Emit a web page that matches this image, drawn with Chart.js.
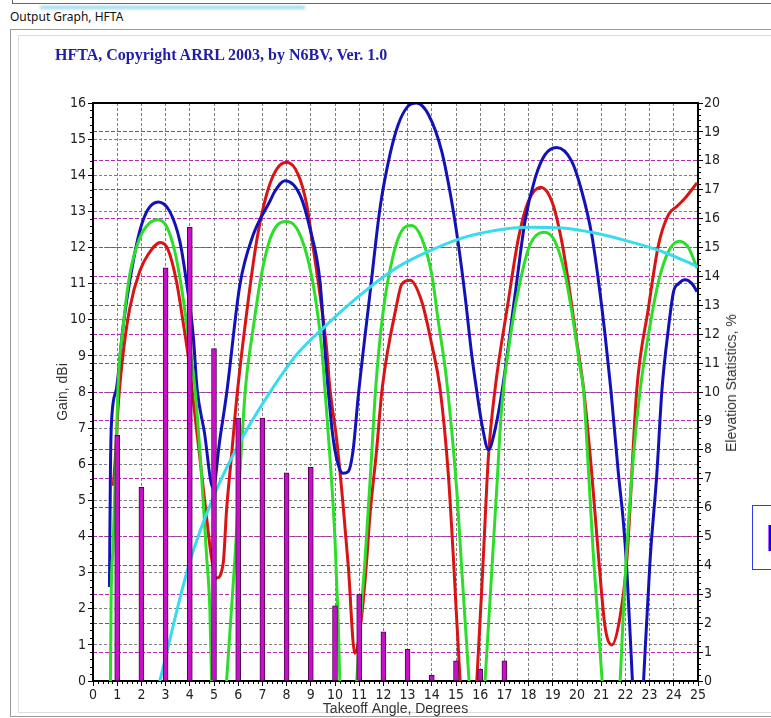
<!DOCTYPE html>
<html>
<head>
<meta charset="utf-8">
<title>Output Graph, HFTA</title>
<script src="https://cdn.jsdelivr.net/npm/chart.js@4.4.0/dist/chart.umd.min.js"></script>
<style>
  body { margin: 0; width: 771px; height: 718px; overflow: hidden; position: relative; background: #fff;
         font-family: "Liberation Sans", Arial, sans-serif; }
  #topEdge { position: absolute; left: 12px; top: -10px; width: 770px; height: 13px;
             border-left: 1px solid #666; border-bottom: 1px solid #666; }
  #glow { position: absolute; left: 40px; top: 6px; width: 265px; height: 3px; background: #8fd3f2; filter: blur(1.5px); }
  #caption { position: absolute; left: 10px; top: 8px; font: 12px "Noto Sans", "Liberation Sans", sans-serif; color: #111; }
  #group { position: absolute; left: 10px; top: 29px; width: 780px; height: 686px; border: 1px solid #9a9a9a; }
  #panel { position: absolute; left: 18px; top: 35px; width: 780px; height: 676px; border: 1px solid #dcdcdc; background: #fff; }
  #hftaChart { position: absolute; left: 0; top: 0; }
  #heading { position: absolute; left: 55px; top: 46px; font: bold 16px "Liberation Serif", "Times New Roman", serif; color: #1e1ea6; }
  #rightTitle { position: absolute; left: 731px; top: 383px; transform: translate(-50%, -50%) rotate(-90deg);
                white-space: nowrap; font: 14px "Liberation Sans", Arial, sans-serif; color: #333; }
  #sideBox { position: absolute; left: 752px; top: 505px; width: 60px; height: 65px; border: 1px solid #2a3cf0; background: #fff;
             font: bold 36px "Liberation Sans", Arial, sans-serif; color: #0000ff; line-height: 65px; padding-left: 13px; box-sizing: border-box; }
</style>
</head>
<body>
<div id="topEdge"></div>
<div id="glow"></div>
<div id="caption">Output Graph, HFTA</div>
<div id="group"></div>
<div id="panel"></div>
<canvas id="hftaChart" width="771" height="718"></canvas>
<div id="heading">HFTA, Copyright ARRL 2003, by N6BV, Ver. 1.0</div>
<div id="rightTitle">Elevation Statistics, %</div>
<div id="sideBox">F</div>
<script>
// elevation statistics (right axis, %)
const statAngles = [1, 2, 3, 4, 5, 6, 7, 8, 9, 10, 11, 12, 13, 14, 15, 16, 17];
const statPercent = [8.5, 6.7, 14.3, 15.7, 11.5, 9.1, 9.1, 7.2, 7.4, 2.6, 3.0, 1.7, 1.1, 0.2, 0.7, 0.4, 0.7];

// gain curves, [takeoff angle, dBi]
const blueGain = [
  [0.68, 2.6], [0.72, 5.8], [0.76, 7.1], [0.97, 8.1], [1.24, 9.8], [1.55, 11.2], [1.93, 12.45],
  [2.27, 13.05], [2.7, 13.26], [3.17, 13.0], [3.59, 12.17], [3.86, 11.06], [4.14, 9.58], [4.3, 8.1],
  [4.6, 6.9], [4.96, 5.34], [5.24, 6.68], [5.52, 7.95], [6.07, 10.97], [6.62, 12.35],
  [7.31, 13.28], [7.51, 13.55], [7.93, 13.85], [8.55, 13.46], [8.96, 12.54], [9.38, 11.06], [9.65, 8.6],
  [9.93, 6.68], [10.2, 5.85], [10.34, 5.75], [10.55, 5.8], [10.75, 6.4], [10.96, 7.88], [11.44, 10.69],
  [11.86, 13.09], [12.27, 14.57], [12.61, 15.4], [13.0, 15.9], [13.37, 16.0], [13.86, 15.68],
  [14.41, 14.66], [14.82, 13.28], [15.1, 12.08], [15.37, 10.69], [15.65, 9.03], [15.85, 8.06],
  [16.1, 7.0], [16.34, 6.4], [16.61, 6.95], [16.92, 8.1], [17.44, 10.69], [17.85, 12.72], [18.27, 13.92],
  [18.68, 14.57], [19.16, 14.77], [19.78, 14.39], [20.2, 13.55], [20.61, 12.35], [20.89, 11.06],
  [21.16, 9.58], [21.4, 8.06], [21.71, 5.75], [21.92, 4.37], [22.06, 3.07], [22.29, 0], [22.52, -3],
  [22.75, 0], [23.02, 3.35], [23.3, 5.75], [23.51, 8.06], [23.78, 9.77], [23.99, 10.78], [24.2, 11.0],
  [24.47, 11.11], [24.75, 11.0], [24.96, 10.78]
];
const redGain = [
  [0.84, 5.4], [0.97, 6.68], [1.03, 7.5], [1.24, 9.03], [1.52, 10.32], [1.93, 11.34], [2.27, 11.8],
  [2.79, 12.14], [3.1, 11.94], [3.45, 11.06], [3.72, 9.95], [4.0, 8.66], [4.14, 7.78], [4.41, 6.21],
  [4.69, 4.55], [4.9, 3.4], [5.1, 2.85], [5.38, 3.26], [5.52, 4.74], [5.72, 6.21], [5.95, 7.9],
  [6.34, 10.14], [6.76, 12.17], [7.17, 13.46], [7.58, 14.16], [8.0, 14.36], [8.48, 14.02], [8.83, 13.19],
  [9.1, 11.99], [9.38, 10.69], [9.65, 9.22], [9.79, 8.1], [10.07, 6.68], [10.34, 4.83], [10.55, 3.17],
  [10.82, 0.77], [11.1, 1.78], [11.31, 3.35], [11.44, 4.55], [11.72, 6.4], [11.95, 8.1], [12.55, 10.42],
  [12.75, 10.97], [13.1, 11.09], [13.58, 10.51], [14.0, 9.31], [14.34, 8.1], [14.68, 5.75], [14.89, 3.44],
  [15.17, 0], [15.5, -3], [15.86, 0], [16.13, 3.44], [16.34, 6.21], [16.61, 8.06], [17.16, 10.51],
  [17.58, 12.26], [17.99, 13.28], [18.5, 13.67], [18.96, 13.28], [19.37, 12.17], [19.64, 11.06],
  [19.99, 9.4], [20.27, 8.1], [20.61, 5.75], [20.89, 3.44], [21.16, 1.5], [21.44, 1.0], [21.78, 1.78],
  [22.06, 3.35], [22.47, 8.06], [22.95, 10.32], [23.37, 12.08], [23.78, 12.91], [24.13, 13.14],
  [24.47, 13.37], [24.96, 13.79]
];
const greenGain = [
  [0.72, 0], [0.75, 2.33], [0.83, 3.72], [0.97, 6.68], [1.03, 8.1], [1.24, 9.77], [1.52, 11.25],
  [1.93, 12.26], [2.34, 12.68], [2.69, 12.77], [3.04, 12.58], [3.38, 11.89], [3.66, 10.88], [3.93, 9.58],
  [4.21, 8.1], [4.48, 5.75], [4.69, 3.5], [4.83, 1.97], [4.9, 0], [5.2, -3], [5.52, 0], [5.72, 1.97],
  [5.86, 3.35], [6.07, 5.75], [6.3, 8.1], [6.62, 9.77], [6.96, 11.25], [7.38, 12.35], [7.93, 12.72],
  [8.41, 12.54], [8.83, 11.8], [9.17, 10.69], [9.45, 9.22], [9.58, 8.1], [9.79, 6.21], [10.0, 3.91],
  [10.14, 1.5], [10.2, 0], [10.55, -3], [10.9, 0], [11.03, 1.5], [11.24, 3.35], [11.51, 6.21],
  [11.68, 8.1], [11.99, 10.23], [12.41, 11.8], [12.75, 12.45], [13.17, 12.61], [13.58, 12.26],
  [14.0, 11.25], [14.27, 9.95], [14.6, 8.4], [15.03, 5.29], [15.24, 3.07], [15.54, 0], [15.87, -3],
  [16.2, 0], [16.48, 3.07], [16.68, 5.29], [16.89, 7.6], [17.3, 9.77], [17.65, 11.06], [18.06, 12.08],
  [18.64, 12.42], [19.09, 12.17], [19.51, 11.25], [19.85, 9.95], [20.13, 8.66], [20.27, 8.06],
  [20.48, 5.75], [20.68, 3.44], [21.04, 0], [21.4, -3], [21.78, 0], [21.92, 1.97], [22.03, 3.35],
  [22.33, 6.21], [22.61, 8.06], [22.95, 9.58], [23.37, 11.06], [23.78, 11.89], [24.22, 12.17],
  [24.61, 11.99], [24.96, 11.43]
];
const cyanGain = [
  [2.76, 0], [4.0, 3.3], [5.1, 5.29], [6.2, 6.77], [7.4, 8.08], [8.41, 9.03], [9.51, 9.77], [10.89, 10.6],
  [12.5, 11.42], [13.86, 11.89], [15.24, 12.26], [16.61, 12.47], [18.0, 12.56], [19.37, 12.54],
  [20.75, 12.4], [22.13, 12.17], [23.51, 11.89], [24.96, 11.48]
];

// axis ranges
const angleMax = 25;
const gainMax = 16;
const percentMax = 20;

const tickFont = { family: '"Liberation Sans Narrow", "Arial Narrow", "DejaVu Sans Condensed", sans-serif', size: 14 };
const titleFont = { family: '"Liberation Sans", Arial, sans-serif', size: 14 };

function toPoints(pairs) {
  return pairs.map(p => ({ x: p[0], y: p[1] }));
}

function curve(pairs, color) {
  return {
    type: 'line',
    data: toPoints(pairs),
    borderColor: color,
    borderWidth: 3,
    pointRadius: 0,
    cubicInterpolationMode: 'monotone',
    yAxisID: 'y'
  };
}

// minor ticks on all three axes + the top frame line
const frameAndMinorTicks = {
  id: 'frameAndMinorTicks',
  afterDatasetsDraw(chart) {
    const { ctx, chartArea: a, scales } = chart;
    ctx.save();
    ctx.strokeStyle = '#000';
    ctx.lineWidth = 2;
    ctx.beginPath();
    ctx.moveTo(a.left - 1, a.top);
    ctx.lineTo(a.right + 1, a.top);
    ctx.stroke();

    ctx.lineWidth = 1;
    ctx.beginPath();
    for (let i = 0; i <= angleMax * 5; i++) {
      if (i % 5 === 0) continue;
      const px = Math.round(scales.x.getPixelForValue(i / 5)) + 0.5;
      ctx.moveTo(px, a.bottom);
      ctx.lineTo(px, a.bottom + 3);
    }
    for (let i = 0; i <= gainMax * 5; i++) {
      if (i % 5 === 0) continue;
      const py = Math.round(scales.y.getPixelForValue(i / 5)) + 0.5;
      ctx.moveTo(a.left, py);
      ctx.lineTo(a.left - 3, py);
    }
    for (let i = 0; i <= percentMax * 5; i++) {
      if (i % 5 === 0) continue;
      const py = Math.round(scales.y2.getPixelForValue(i / 5)) + 0.5;
      ctx.moveTo(a.right, py);
      ctx.lineTo(a.right + 3, py);
    }
    ctx.stroke();
    ctx.restore();
  }
};

const ctx = document.getElementById('hftaChart').getContext('2d');
new Chart(ctx, {
  type: 'line',
  data: {
    datasets: [
      {
        type: 'bar',
        data: statAngles.map((a, i) => ({ x: a, y: statPercent[i] })),
        backgroundColor: '#c810c8',
        borderColor: '#4a0a4a',
        borderWidth: 1,
        barThickness: 5,
        yAxisID: 'y2'
      },
      curve(cyanGain, '#38dcee'),
      curve(greenGain, '#2edd2a'),
      curve(blueGain, '#1212b8'),
      curve(redGain, '#d81414')
    ]
  },
  options: {
    responsive: false,
    animation: false,
    devicePixelRatio: 1,
    layout: { padding: { top: 103, left: 0, right: 0, bottom: 0 } },
    plugins: {
      legend: { display: false },
      title: { display: false },
      tooltip: { enabled: false }
    },
    scales: {
      x: {
        type: 'linear',
        position: 'bottom',
        min: 0,
        max: angleMax,
        offset: false,
        afterFit: s => { s.height = 37; },
        ticks: { stepSize: 1, font: tickFont, color: '#222', padding: 1, maxRotation: 0, autoSkip: false },
        grid: { color: '#808080', lineWidth: 1, tickLength: 5, tickColor: '#000', offset: false },
        border: { color: '#000', width: 2, dash: [3, 2] },
        title: { display: true, text: 'Takeoff Angle, Degrees', font: titleFont, color: '#333', padding: { top: 0, bottom: 0 } }
      },
      y: {
        type: 'linear',
        position: 'left',
        min: 0,
        max: gainMax,
        afterFit: s => { s.width = 93; },
        ticks: { stepSize: 1, font: tickFont, color: '#222', padding: 2 },
        grid: { color: '#808080', lineWidth: 1, tickLength: 5, tickColor: '#000' },
        border: { color: '#000', width: 2, dash: [3, 2] },
        title: { display: true, text: 'Gain, dBi', font: titleFont, color: '#333', padding: { top: 55, bottom: 0 } }
      },
      y2: {
        type: 'linear',
        position: 'right',
        min: 0,
        max: percentMax,
        afterFit: s => { s.width = 73; },
        ticks: { stepSize: 1, font: tickFont, color: '#222', padding: 1 },
        grid: { color: '#b02cb0', lineWidth: 1, tickLength: 5, tickColor: '#000' },
        border: { color: '#000', width: 2, dash: [4, 2] },
        title: { display: false }
      }
    }
  },
  plugins: [frameAndMinorTicks]
});
</script>
</body>
</html>
